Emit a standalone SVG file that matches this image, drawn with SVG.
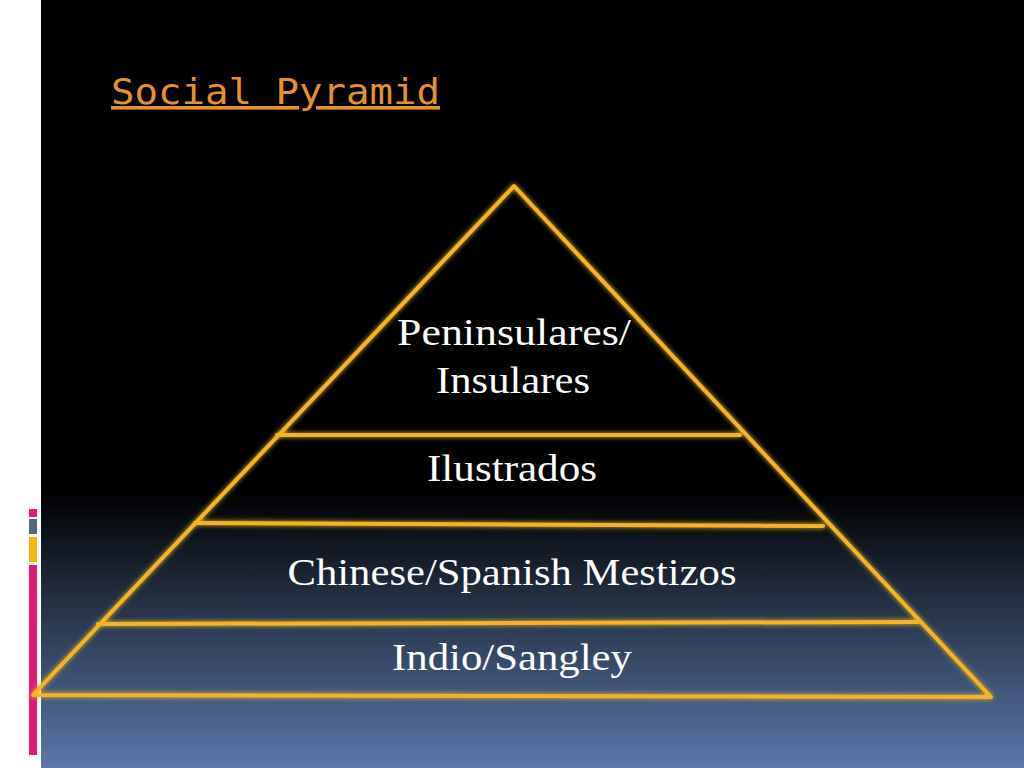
<svg xmlns="http://www.w3.org/2000/svg" width="1024" height="768" viewBox="0 0 1024 768">
<defs>
<linearGradient id="bg" x1="0" y1="0" x2="0" y2="1">
<stop offset="0" stop-color="#000"/><stop offset="0.64" stop-color="#000"/><stop offset="1" stop-color="#5a78aa"/>
</linearGradient>
<filter id="glow" x="-10%" y="-10%" width="120%" height="120%"><feGaussianBlur stdDeviation="2.5" result="b"/><feMerge><feMergeNode in="b"/><feMergeNode in="SourceGraphic"/></feMerge></filter>
</defs>
<style>
.l{stroke:#f2b526;stroke-width:4;fill:none;stroke-linecap:round;stroke-linejoin:round}
.t{font-family:"Liberation Serif",serif;font-size:37px;fill:#fff;text-anchor:middle}
</style>
<rect width="1024" height="768" fill="#fff"/>
<rect x="41" width="983" height="768" fill="url(#bg)"/>
<rect x="29" y="509" width="8" height="8" fill="#e0197a"/>
<rect x="29" y="519" width="8" height="15" fill="#56657a"/>
<rect x="29" y="537" width="8" height="25" fill="#f7b511"/>
<rect x="29" y="565" width="8" height="190" fill="#e0197a"/>
<text x="111" y="104" font-family="DejaVu Sans Mono,monospace" font-size="36" fill="#e3922c" text-decoration="underline" textLength="329" lengthAdjust="spacingAndGlyphs">Social Pyramid</text>
<g id="connectors" filter="url(#glow)">
<path class="l" d="M514 186 L991 697 L33 695 Z"/>
<path class="l" d="M277 435 L740 435"/>
<path class="l" d="M195 523 L823 526"/>
<path class="l" d="M98 624 L918 622"/>
</g>
<g id="n1"><text class="t" x="514" y="345" textLength="234" lengthAdjust="spacingAndGlyphs">Peninsulares/</text><text class="t" x="513" y="393" textLength="154" lengthAdjust="spacingAndGlyphs">Insulares</text></g>
<g id="n2"><text class="t" x="512" y="481" textLength="170" lengthAdjust="spacingAndGlyphs">Ilustrados</text></g>
<g id="n3"><text class="t" x="512" y="585" textLength="449" lengthAdjust="spacingAndGlyphs">Chinese/Spanish Mestizos</text></g>
<g id="n4"><text class="t" x="512" y="670" textLength="240" lengthAdjust="spacingAndGlyphs">Indio/Sangley</text></g>
</svg>
